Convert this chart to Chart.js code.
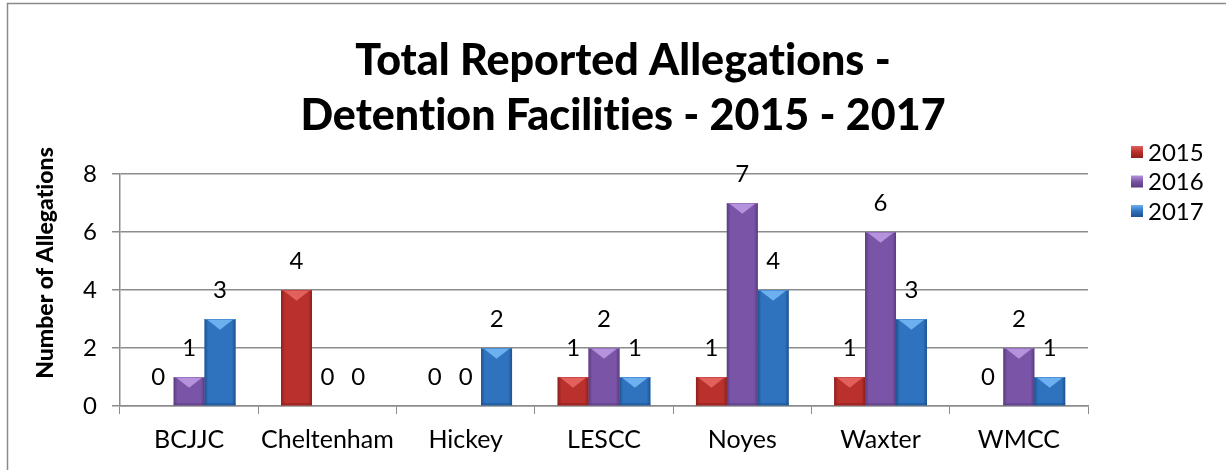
<!DOCTYPE html>
<html>
<head>
<meta charset="utf-8">
<script src="https://cdn.jsdelivr.net/npm/chart.js@4/dist/chart.umd.min.js"></script>
<style>
  html, body { margin: 0; padding: 0; background: #fff; }
  #wrap { width: 1226px; height: 470px; }
</style>
</head>
<body>
<div id="wrap"><canvas id="c" width="1226" height="470"></canvas></div>
<script>
var facilities = ["BCJJC", "Cheltenham", "Hickey", "LESCC", "Noyes", "Waxter", "WMCC"]
  , years      = ["2015", "2016", "2017"]
  , y2015      = [0, 4, 0, 1, 1, 1, 0]
  , y2016      = [1, 0, 0, 2, 7, 6, 2]
  , y2017      = [3, 0, 2, 1, 4, 3, 1]
  , yTicks     = [0, 2, 4, 6, 8]
  , titleLines = ["Total Reported Allegations -", "Detention Facilities - 2015 - 2017"]
  , yTitle     = "Number of Allegations"

var FONT   = "Lato, 'Open Sans', sans-serif"
  , GRID   = "#8c8c8c"
  , COLORS =
    [ {base: "#b9302c", light: "#e3615c", dark: "#8e1f1c"}
    , {base: "#7a54a6", light: "#b593dc", dark: "#5a3b80"}
    , {base: "#2f73bf", light: "#6cb0f0", dark: "#1d528f"}
    ]

// no "ti" ligatures in Lato, Excel does not draw them
function noLig(ctx) {
  if ("letterSpacing" in ctx) ctx.letterSpacing = "0.01px"
  if ("textRendering" in ctx) ctx.textRendering = "optimizeSpeed"
}

// bevel look of the Excel bars, on top of the flat fill
function drawBevel(ctx, el, col) {
  var w = el.width, l = el.x - w / 2, r = el.x + w / 2
    , top = Math.min(el.y, el.base), bot = Math.max(el.y, el.base)
    , h = bot - top
  if (h < 1) return
  var e = Math.min(3, w / 6), tip = Math.min(w * 0.35, h)
  ctx.save()
  var g = ctx.createLinearGradient(l, 0, r, 0)
  g.addColorStop(0, col.dark)
  g.addColorStop(0.12, col.base)
  g.addColorStop(0.88, col.base)
  g.addColorStop(1, col.dark)
  ctx.fillStyle = g
  ctx.fillRect(l, top, w, h)
  ctx.fillStyle = col.light
  ctx.beginPath()
  ctx.moveTo(l + e, top + 1)
  ctx.lineTo(r - e, top + 1)
  ctx.lineTo(el.x, top + tip)
  ctx.closePath()
  ctx.fill()
  ctx.fillStyle = col.dark
  ctx.globalAlpha = 0.6
  ctx.fillRect(l, bot - Math.min(2, h / 3), w, Math.min(2, h / 3))
  ctx.globalAlpha = 0.5
  ctx.strokeStyle = col.light
  ctx.lineWidth = 1
  ctx.beginPath()
  ctx.moveTo(l + 0.5, top + 0.5)
  ctx.lineTo(r - 0.5, top + 0.5)
  ctx.stroke()
  ctx.restore()
}

var decor = {
  id: "decor",
  beforeDraw: function(chart) {
    var ctx = chart.ctx
    ctx.save()
    ctx.fillStyle = "#fff"
    ctx.fillRect(0, 0, chart.width, chart.height)
    ctx.strokeStyle = "#8a8a8a"
    ctx.lineWidth = 1.5
    ctx.beginPath()
    ctx.moveTo(7.5, chart.height)
    ctx.lineTo(7.5, 3.5)
    ctx.lineTo(chart.width, 3.5)
    ctx.stroke()
    ctx.restore()
  },
  afterDatasetsDraw: function(chart) {
    var ctx = chart.ctx
    chart.data.datasets.forEach(function(ds, i) {
      var meta = chart.getDatasetMeta(i)
      meta.data.forEach(function(el) { drawBevel(ctx, el, COLORS[i]) })
    })
    ctx.save()
    ctx.fillStyle = "#000"
    ctx.textAlign = "center"
    ctx.textBaseline = "middle"
    ctx.font = "24px " + FONT
    chart.data.datasets.forEach(function(ds, i) {
      var meta = chart.getDatasetMeta(i)
      meta.data.forEach(function(el, j) {
        ctx.fillText(String(ds.data[j]), el.x, el.y - 29)
      })
    })
    ctx.restore()
  },
  afterDraw: function(chart) {
    var ctx = chart.ctx
    ctx.save()
    noLig(ctx)
    ctx.fillStyle = "#000"
    ctx.textAlign = "center"
    ctx.textBaseline = "middle"
    ctx.font = "900 43px " + FONT
    titleLines.forEach(function(t, i) { ctx.fillText(t, 623, 61 + i * 55) })

    ctx.save()
    ctx.translate(46, 263)
    ctx.rotate(-Math.PI / 2)
    ctx.font = "900 23px " + FONT
    ctx.fillText(yTitle, 0, 0)
    ctx.restore()

    ctx.textAlign = "left"
    ctx.font = "24px " + FONT
    chart.data.datasets.forEach(function(ds, i) {
      var y = 152 + i * 29.5, col = COLORS[i]
      var g = ctx.createLinearGradient(0, y - 6, 0, y + 6)
      g.addColorStop(0, col.light)
      g.addColorStop(0.5, col.base)
      g.addColorStop(1, col.dark)
      ctx.fillStyle = g
      ctx.fillRect(1131, y - 6, 12, 12)
      ctx.fillStyle = "#000"
      ctx.fillText(ds.label, 1148, y + 1)
    })
    ctx.restore()
  }
}

new Chart(document.getElementById("c"), {
  type: "bar",
  data: {
    labels: facilities,
    datasets: [
      { label: years[0], data: y2015, backgroundColor: COLORS[0].base },
      { label: years[1], data: y2016, backgroundColor: COLORS[1].base },
      { label: years[2], data: y2017, backgroundColor: COLORS[2].base }
    ]
  },
  options: {
    responsive: false,
    animation: false,
    devicePixelRatio: 1,
    layout: { padding: { left: 0, right: 138, top: 174, bottom: 0 } },
    datasets: { bar: { categoryPercentage: 0.67, barPercentage: 1.0, borderWidth: 0 } },
    plugins: {
      legend: { display: false },
      title: { display: false },
      tooltip: { enabled: false }
    },
    scales: {
      x: {
        grid: { drawOnChartArea: false, drawTicks: true, tickLength: 8, color: GRID, offset: true },
        border: { color: GRID, width: 1.5 },
        ticks: { color: "#000", padding: 11, font: { family: FONT, size: 25 }, maxRotation: 0 },
        afterFit: function(s) { s.height = 64 }
      },
      y: {
        min: 0,
        max: 8,
        afterBuildTicks: function(s) { s.ticks = yTicks.map(function(v) { return {value: v} }) },
        grid: { color: GRID, lineWidth: 1.5, tickLength: 8 },
        border: { color: GRID, width: 1.5 },
        ticks: { color: "#000", padding: 15, font: { family: FONT, size: 24 } },
        afterFit: function(s) { s.width = 120 }
      }
    }
  },
  plugins: [decor]
})
</script>
</body>
</html>
